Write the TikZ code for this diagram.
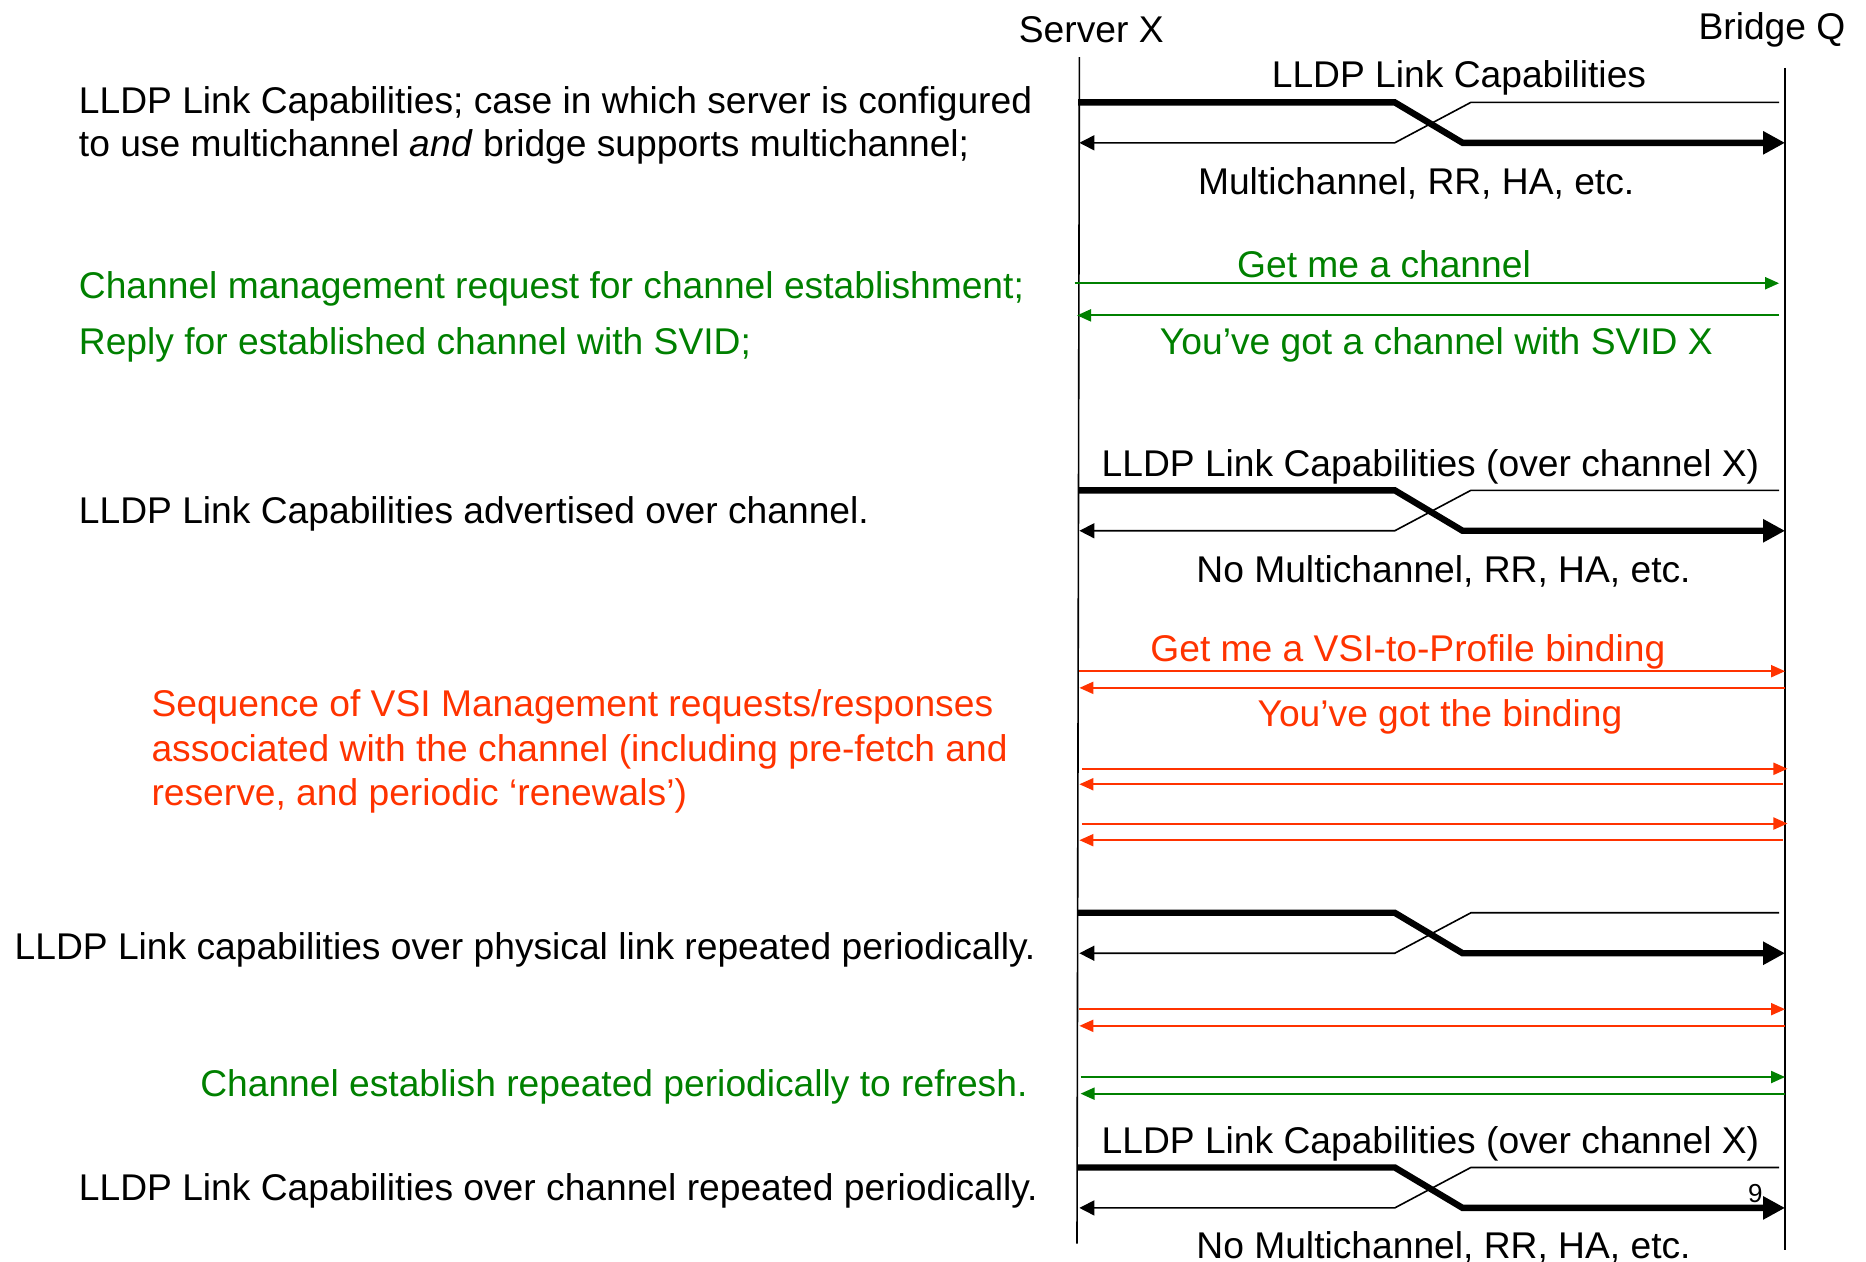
\documentclass[tikz,border=0pt]{standalone}
\usepackage{fontspec}
\setmainfont{Liberation Sans}
\usetikzlibrary{arrows.meta}
\definecolor{msggreen}{RGB}{0,128,0}
\definecolor{msgred}{RGB}{255,51,0}
\tikzset{
  lbl/.style={inner sep=0pt, yshift=-1.8pt, font=\fontsize{18.6}{21.6}\selectfont},
  note/.style={lbl, anchor=west, align=left},
  life/.style={line width=0.8pt},
  thinmsg/.style={line width=0.8pt, -{Triangle[length=7.5pt,width=7.5pt]}},
  thickmsg/.style={line width=3.2pt, -{Triangle[length=11pt,width=11pt]}},
  msg/.style={line width=1pt, draw=#1, -{Triangle[length=7pt,width=6pt]}}
}

\begin{document}
\begin{tikzpicture}[x=0.595pt, y=-0.595pt]
  \useasboundingbox (0,0) rectangle (1568,1060);
  % Lifelines
  \node[lbl] (srv) at (917,22) {Server X};
  \node[lbl] (brg) at (1489,22) {Bridge Q};
  \coordinate (srvtop) at (907,48);
  \coordinate (srvbot) at (905,1045);
  \coordinate (brgtop) at (1500,57);
  \coordinate (brgbot) at (1500,1050);
  \draw[life] (srvtop) -- (srvbot);
  \draw[life] (brgtop) -- (brgbot);
  % LLDP exchanges (crossing pairs)
  \foreach \name/\yt/\yb in {lc/86/120, oc/412/446, pl/767/801, rc/981/1015} {
    \coordinate (\name-a) at (906,\yt);
    \coordinate (\name-b) at (1172,\yt);
    \coordinate (\name-c) at (1229,\yb);
    \coordinate (\name-d) at (1500,\yb);
    \coordinate (\name-e) at (1495,\yt);
    \coordinate (\name-f) at (1236,\yt);
    \coordinate (\name-g) at (1172,\yb);
    \coordinate (\name-h) at (907,\yb);
    \draw[thickmsg] (\name-a) -- (\name-b) -- (\name-c) -- (\name-d);
    \draw[thinmsg] (\name-e) -- (\name-f) -- (\name-g) -- (\name-h);
  }
  % Channel and VSI messages
  \foreach \name/\y/\xa/\xb/\c in {g1/238/903/1495/msggreen, g2/265/1495/905/msggreen,
      r1/564/907/1500/msgred, r2/578/1500/907/msgred,
      r3/646/909/1502/msgred, r4/659/1498/907/msgred,
      r5/692/909/1502/msgred, r6/706/1498/907/msgred,
      r7/848/907/1500/msgred, r8/862/1500/907/msgred,
      g3/905/908/1500/msggreen, g4/919/1500/908/msggreen} {
    \coordinate (\name-s) at (\xa,\y);
    \coordinate (\name-t) at (\xb,\y);
    \draw[msg=\c] (\name-s) -- (\name-t);
  }
  % Message labels
  \node[lbl] (lcup) at (1226,62) {LLDP Link Capabilities};
  \node[lbl] (lcdn) at (1190,151) {Multichannel, RR, HA, etc.};
  \node[lbl, text=msggreen] (g1l) at (1163,219) {Get me a channel};
  \node[lbl, text=msggreen] (g2l) at (1207,287) {You’ve got a channel with SVID X};
  \node[lbl] (ocup) at (1202,389) {LLDP Link Capabilities (over channel X)};
  \node[lbl] (ocdn) at (1213,477) {No Multichannel, RR, HA, etc.};
  \node[lbl, text=msgred] (r1l) at (1183,545) {Get me a VSI-to-Profile binding};
  \node[lbl, text=msgred] (r2l) at (1210,599) {You’ve got the binding};
  \node[lbl] (rcup) at (1202,958) {LLDP Link Capabilities (over channel X)};
  \node[lbl] (rcdn) at (1213,1045) {No Multichannel, RR, HA, etc.};
  \node[inner sep=0pt, font=\fontsize{13}{14}\selectfont] (stray) at (1475,1003) {9};
  % Notes on the left
  \node[note] (n1) at (66,102) {LLDP Link Capabilities; case in which server is configured\\
    to use multichannel \textit{and} bridge supports multichannel;};
  \node[note, text=msggreen] (n2) at (66,240) {Channel management request for channel establishment;};
  \node[note, text=msggreen] (n3) at (66,287) {Reply for established channel with SVID;};
  \node[note] (n4) at (66,429) {LLDP Link Capabilities advertised over channel.};
  \node[note, text=msgred, font=\fontsize{18.6}{22.3}\selectfont] (n5) at (127,628.5)
    {Sequence of VSI Management requests/responses\\
     associated with the channel (including pre-fetch and\\
     reserve, and periodic ‘renewals’)};
  \node[note] (n6) at (12,795) {LLDP Link capabilities over physical link repeated periodically.};
  \node[note, text=msggreen] (n7) at (168,910) {Channel establish repeated periodically to refresh.};
  \node[note] (n8) at (66,998) {LLDP Link Capabilities over channel repeated periodically.};
\end{tikzpicture}
\end{document}
